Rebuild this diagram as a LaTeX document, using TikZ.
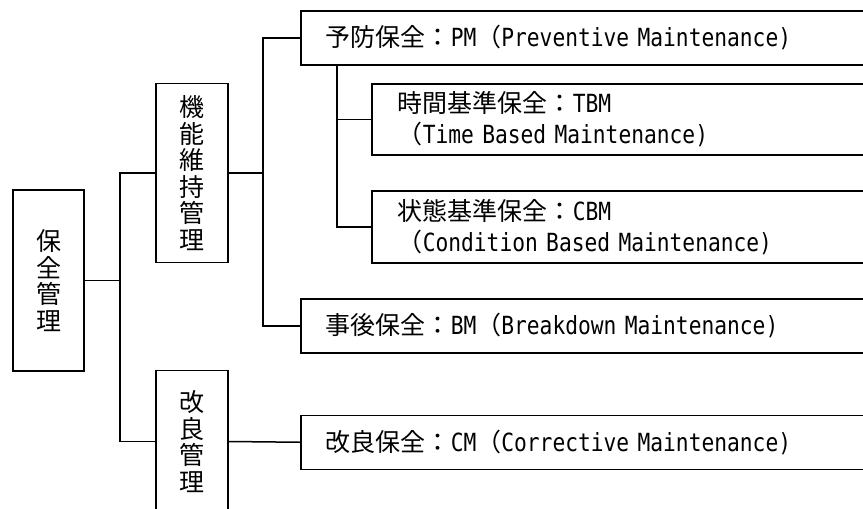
\documentclass[tikz,border=0pt]{standalone}
\usepackage{fontspec}
\setmainfont{DejaVu Sans Mono}[FakeStretch=0.85]
\newfontfamily\jp{Noto Sans CJK JP}
\begin{document}
\begin{tikzpicture}[x=1pt,y=-1pt,
  line width=1.5pt,
  every node/.style={font=\fontsize{25}{31}\selectfont},
  vbox/.style={draw, line width=1.5pt, inner sep=0pt, align=center,
    font=\fontsize{25}{26.5}\selectfont\jp},
  hbox/.style={draw, line width=1.5pt, anchor=north west, inner xsep=25pt,
    inner ysep=0pt, align=left, minimum width=570pt, text width=520pt},
  sbox/.style={hbox, inner xsep=26pt, minimum width=499pt, text width=447pt}]
\useasboundingbox (0,0) rectangle (863,509);
\clip (0,0) rectangle (863,509);

% left column: vertical labels
\node[vbox, minimum width=71pt, minimum height=181pt] (root) at (48.5,280.5)
  {保\\全\\管\\理};
\node[vbox, minimum width=72pt, minimum height=179pt] (fm) at (192,173)
  {機\\能\\維\\持\\管\\理};
\node[vbox, minimum width=72pt, minimum height=142pt] (kr) at (192,441.5)
  {改\\良\\管\\理};

% right column: maintenance types
\node[hbox, minimum height=54pt] (pm) at (300,10)
  {{\jp 予防保全：}PM{\jp （}Preventive Maintenance)};
\node[sbox, minimum height=71pt] (tbm) at (371,83)
  {{\jp 時間基準保全：}TBM\\{\jp （}Time Based Maintenance)};
\node[sbox, minimum height=72pt] (cbm) at (371,190)
  {{\jp 状態基準保全：}CBM\\{\jp （}Condition Based Maintenance)};
\node[hbox, minimum height=54pt] (bm) at (300,298)
  {{\jp 事後保全：}BM{\jp （}Breakdown Maintenance)};
\node[hbox, minimum height=54pt] (cm) at (300,414.5)
  {{\jp 改良保全：}CM{\jp （}Corrective Maintenance)};

% junction points of the tree
\coordinate (j1) at (120,280.5);
\coordinate (j2) at (263,173);
\coordinate (j3) at (337,64);

% connectors
\draw (root.east) -- (j1);
\draw (fm.west) -| (j1) |- (kr.west);
\draw (fm.east) -- (j2);
\draw (pm.west) -| (j2) |- (bm.west);
\draw (j3) |- (tbm.west);
\draw (j3) |- (cbm.west);
\draw (kr.east) -- (cm.west);
\end{tikzpicture}
\end{document}
